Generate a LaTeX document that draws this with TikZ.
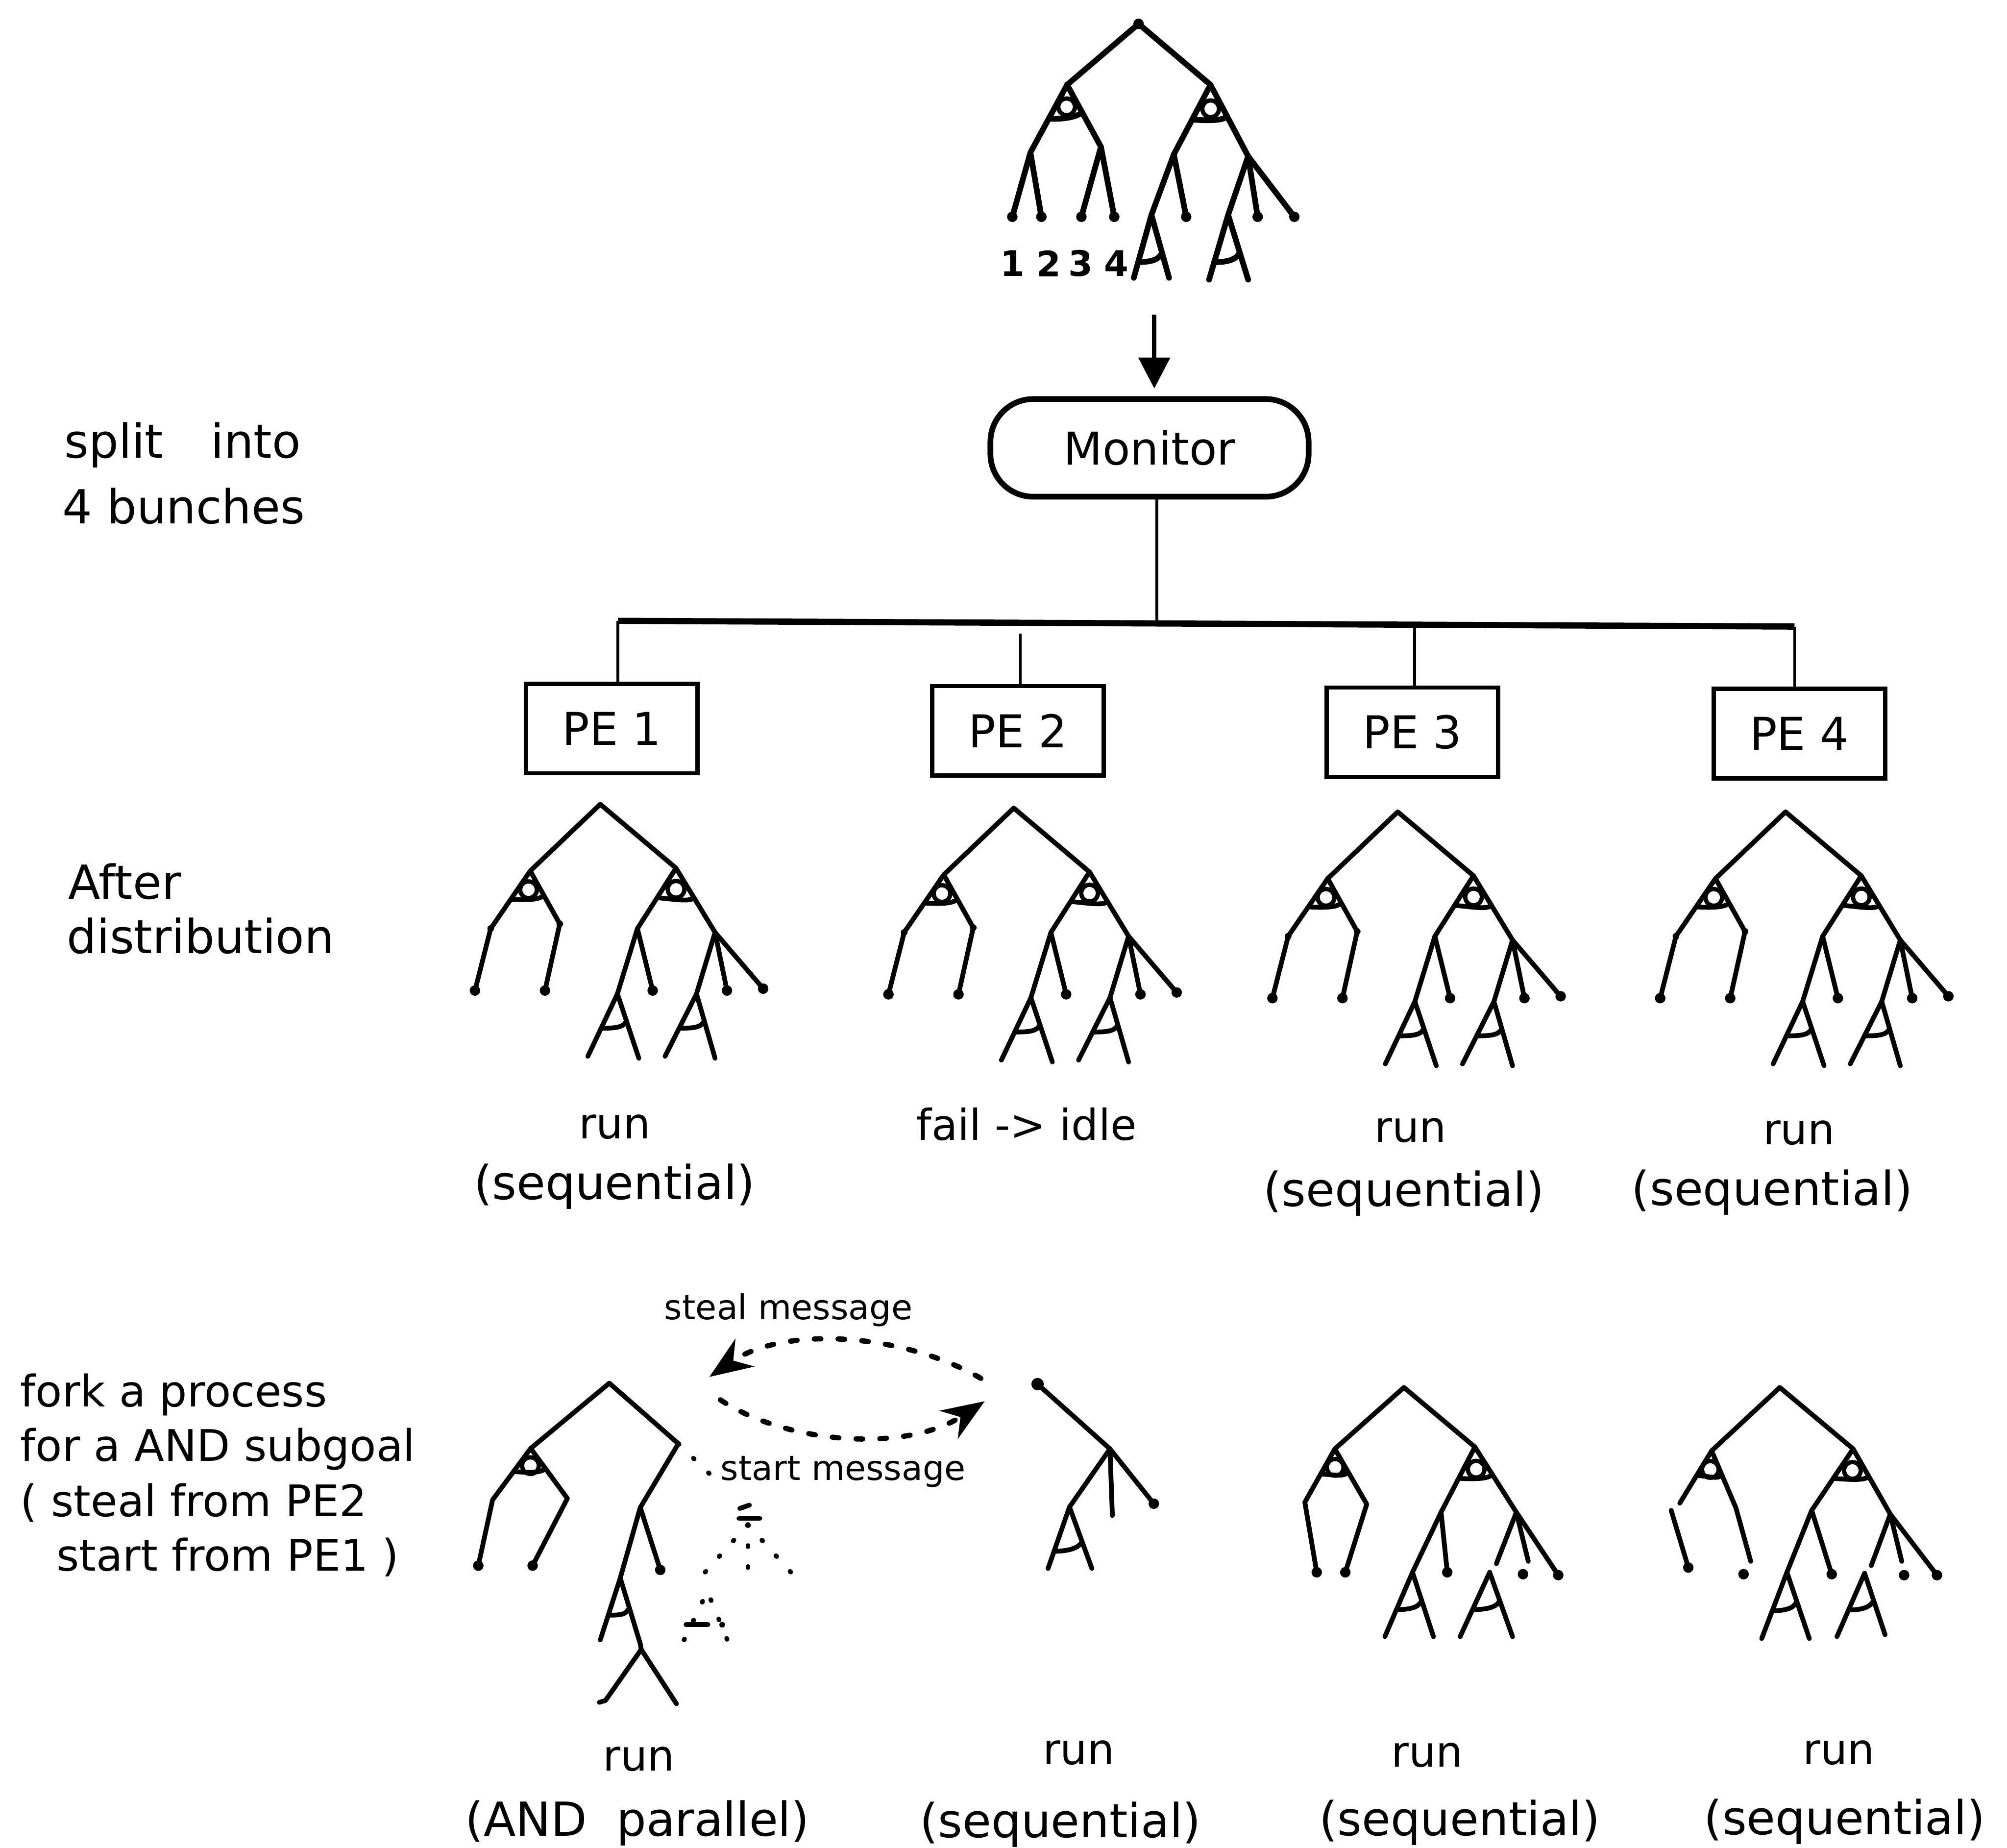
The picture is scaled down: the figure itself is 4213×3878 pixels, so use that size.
\documentclass[tikz,border=0pt]{standalone}
\usepackage{fontspec}
\setmainfont{DejaVu Sans}
\usetikzlibrary{calc,arrows.meta}
\tikzset{
 tree/.style={line width=1mm, line cap=round, line join=round},
 ttree/.style={line width=1.2mm, line cap=round, line join=round},
 loopst/.style={line width=0.9mm},
 pebox/.style={draw, line width=0.9mm, minimum width=36mm, minimum height=18.8mm, inner sep=0pt, font=\fontsize{27}{30}\selectfont},
 mon/.style={draw, line width=1.2mm, rounded corners=9mm, minimum width=66.8mm, minimum height=20.5mm, inner sep=0pt, font=\fontsize{27}{30}\selectfont},
 bus/.style={line width=1.3mm},
 drop/.style={line width=0.6mm},
 lab/.style={font=\fontsize{28}{32}\selectfont, inner sep=0pt},
 labs/.style={font=\fontsize{25.5}{30}\selectfont, inner sep=0pt},
 labl/.style={font=\fontsize{26}{30}\selectfont, inner sep=0pt},
 msgt/.style={font=\fontsize{20.5}{24}\selectfont, inner sep=0pt},
 num/.style={font=\bfseries\fontsize{21}{24}\selectfont, inner sep=0pt},
 msg/.style={line width=1.1mm, line cap=round, dash pattern=on 1.4mm off 3.6mm},
 dotty/.style={line width=1mm, line cap=round, dash pattern=on 0.2mm off 4.2mm},
 arr/.style={line width=0.9mm, -{Triangle[length=6.5mm,width=6.5mm]}},
 msgarr/.style={-{Stealth[length=9mm,width=7mm]}},
}
\newcommand\tdot[1]{\fill (#1) circle[radius=1.1mm];}
% style, name, apex, left foot, right foot, frac left, frac right
\newcommand\ashape[7][tree]{%
 \coordinate (#2t) at #3; \coordinate (#2l) at #4; \coordinate (#2r) at #5;
 \draw[#1] (#2l) -- (#2t) -- (#2r);
 \draw[#1] ($(#2t)!#6!(#2l)$) .. controls +(30,0) and +(-6,14) .. ($(#2t)!#7!(#2r)$);}
% style, node, left child, right child, frac left, frac right  (AND arc with loop)
\newcommand\andbar[6][tree]{%
 \draw[#1] ($(#2)!#5!(#3)$) .. controls +(30,2) and +(-8,10) .. ($(#2)!#6!(#4)$);
 \draw[loopst] ($($(#2)!0.34!(#3)$)!0.5!($(#2)!0.34!(#4)$)$) circle[radius=1.75mm];}
\begin{document}
\begin{tikzpicture}[x=0.1mm,y=-0.1mm]
\useasboundingbox (0,0) rectangle (4213,3878);
\fill[white] (0,0) rectangle (4213,3878);

% ---------------- top tree ----------------
\coordinate (t0) at (2390,50);
\coordinate (tL) at (2240,178); \coordinate (tR) at (2541,178);
\coordinate (tLL) at (2163,320); \coordinate (tLR) at (2311,308);
\coordinate (t1) at (2125,455); \coordinate (t2) at (2186,455);
\coordinate (t3) at (2270,455); \coordinate (t4) at (2339,455);
\coordinate (tRL) at (2464,324); \coordinate (tRR) at (2620,328);
\coordinate (t5) at (2490,455); \coordinate (t6) at (2640,455); \coordinate (t7) at (2717,455);
\draw[ttree] (tL) -- (t0) -- (tR);
\draw[ttree] (tLL) -- (tL) -- (tLR);
\draw[ttree] (t1) -- (tLL) -- (t2);
\draw[ttree] (t3) -- (tLR) -- (t4);
\draw[ttree] (tRL) -- (tR) -- (tRR);
\andbar[ttree]{tL}{tLL}{tLR}{0.5}{0.44}
\andbar[ttree]{tR}{tRL}{tRR}{0.5}{0.44}
\ashape[ttree]{tA1}{(2417,451)}{(2380,583)}{(2454,583)}{0.75}{0.6}
\ashape[ttree]{tA2}{(2578,451)}{(2538,587)}{(2620,587)}{0.73}{0.58}
\draw[ttree] (tRL) -- (tA1t); \draw[ttree] (tRL) -- (t5);
\draw[ttree] (tRR) -- (tA2t); \draw[ttree] (tRR) -- (t6); \draw[ttree] (tRR) -- (t7);
\foreach \p in {t0,t1,t2,t3,t4,t5,t6,t7}{\tdot{\p}}
\node[num] (n1) at (2125,553) {1};
\node[num] (n2) at (2202,553) {2};
\node[num] (n3) at (2268,553) {3};
\node[num] (n4) at (2344,553) {4};

% ---------------- monitor ----------------
\coordinate (arrS) at (2423,660);
\node[mon] (mon) at (2413,940) {Monitor};
\draw[arr] (arrS) -- (arrS |- mon.north) [shorten >=1.6mm];
\coordinate (busL) at (1297,1303);
\coordinate (busR) at (3767,1315);
\coordinate (bj) at ($(busL)!0.458!(busR)$);
\coordinate (bj3) at ($(busL)!0.677!(busR)$);
\draw[bus] (busL) -- (busR);
\draw[drop] (bj |- mon.south) -- (bj);

\node[pebox] (pe1) at (1284,1529) {PE 1};
\node[pebox] (pe2) at (2137,1534) {PE 2};
\node[pebox] (pe3) at (2965,1537) {PE 3};
\node[pebox] (pe4) at (3777,1540) {PE 4};
\coordinate (pe2top) at (2142,1330);
\draw[drop] (busL) -- (busL |- pe1.north);
\draw[drop] (pe2top) -- (pe2top |- pe2.north);
\draw[drop] (bj3) -- (bj3 |- pe3.north);
\draw[drop] (busR) -- (busR |- pe4.north);

% ---------------- middle trees ----------------
\foreach \i/\x/\y in {1/1260/1688,2/2128/1696,3/2934/1704,4/3748/1704}{
 \begin{scope}[shift={(\x,\y)}]
  \coordinate (m\i-r) at (0,0);
  \coordinate (m\i-L) at (-147,140); \coordinate (m\i-R) at (159,134);
  \coordinate (m\i-a) at (-230,261); \coordinate (m\i-la) at (-263,391);
  \coordinate (m\i-b) at (-85,251); \coordinate (m\i-lb) at (-116,391);
  \coordinate (m\i-c) at (78,261); \coordinate (m\i-lc) at (110,391);
  \coordinate (m\i-d) at (241,269); \coordinate (m\i-ld1) at (266,391); \coordinate (m\i-ld2) at (342,387);
  \draw[tree] (m\i-L) -- (m\i-r) -- (m\i-R);
  \draw[tree] (m\i-L) -- (m\i-a) -- (m\i-la);
  \draw[tree] (m\i-L) -- (m\i-b) -- (m\i-lb);
  \draw[tree] (m\i-c) -- (m\i-R) -- (m\i-d);
  \andbar{m\i-L}{m\i-a}{m\i-b}{0.49}{0.46}
  \andbar{m\i-R}{m\i-c}{m\i-d}{0.49}{0.46}
  \ashape{m\i-A1}{(36,398)}{(-26,529)}{(81,533)}{0.55}{0.42}
  \ashape{m\i-A2}{(202,398)}{(136,529)}{(241,533)}{0.55}{0.42}
  \draw[tree] (m\i-c) -- (m\i-A1t); \draw[tree] (m\i-c) -- (m\i-lc);
  \draw[tree] (m\i-d) -- (m\i-A2t); \draw[tree] (m\i-d) -- (m\i-ld1); \draw[tree] (m\i-d) -- (m\i-ld2);
  \fill (m\i-a) circle[radius=0.7mm]; \fill (m\i-b) circle[radius=0.7mm];
  \tdot{m\i-la} \tdot{m\i-lb} \tdot{m\i-lc} \tdot{m\i-ld1} \tdot{m\i-ld2}
 \end{scope}
}

% ---------------- bottom tree PE1 ----------------
\coordinate (b1r) at (1279,2903);
\coordinate (b1L) at (1114,3040); \coordinate (b1R) at (1424,3030);
\coordinate (b1a) at (1034,3148); \coordinate (b1la) at (1004,3286);
\coordinate (b1b) at (1191,3145); \coordinate (b1lb) at (1118,3286);
\coordinate (b1n) at (1344,3164); \coordinate (b1c2) at (1386,3295);
\draw[tree] (b1L) -- (b1r) -- (b1R);
\draw[tree] (b1L) -- (b1a) -- (b1la);
\draw[tree] (b1L) -- (b1b) -- (b1lb);
\andbar{b1L}{b1a}{b1b}{0.45}{0.4}
\ashape{b1A}{(1302,3312)}{(1260,3442)}{(1344,3450)}{0.6}{0.45}
\draw[tree] (b1R) -- (b1n) -- (b1At);
\draw[tree] (b1n) -- (b1c2);
\coordinate (b1y) at (1346,3462);
\coordinate (b1y1) at (1271,3569); \coordinate (b1y2) at (1420,3576);
\draw[tree] (b1Ar) -- (b1y) -- (b1y1) -- (1258,3573);
\draw[tree] (b1y) -- (b1y2);
\tdot{b1la} \tdot{b1lb} \tdot{b1c2}
% dotted forked part
\coordinate (smsg) at (1490,3094);
\draw[dotty] (b1R) -- (smsg);
\draw[tree] (1553,3166) -- (1573,3159);
\draw[tree] (1551,3187) -- (1595,3187);
\coordinate (fk) at (1570,3200);
\coordinate (fk1) at (1478,3302); \coordinate (fk2) at (1570,3308); \coordinate (fk3) at (1662,3302);
\draw[dotty] (fk) -- (fk1); \draw[dotty] (fk) -- (fk2); \draw[dotty] (fk) -- (fk3);
\coordinate (fA) at (1485,3340);
\coordinate (fAl) at (1436,3442); \coordinate (fAr) at (1528,3445);
\draw[dotty] (fAl) -- (fA) -- (fAr);
\draw[tree] (1440,3410) -- (1486,3410);
\fill (1516,3410) circle[radius=0.6mm];

% messages
\coordinate (st1) at (2059,2893); \coordinate (st2) at (1489,2890);
\draw[msg,msgarr] (st1) .. controls (1900,2800) and (1650,2780) .. (st2);
\coordinate (sa1) at (1512,2938); \coordinate (sa2) at (2067,2941);
\draw[msg,msgarr] (sa1) .. controls (1650,3030) and (1900,3050) .. (sa2);
\node[msgt, anchor=base west] (steal) at (1394,2769) {steal message};
\node[msgt, anchor=base west] (start) at (1512,3107) {start message};

% ---------------- bottom tree PE2 ----------------
\coordinate (b2a) at (2178,2905); \coordinate (b2n) at (2330,3041);
\coordinate (b2m) at (2335,3181); \coordinate (b2c) at (2422,3156);
\ashape{b2A}{(2245,3163)}{(2200,3292)}{(2292,3292)}{0.72}{0.56}
\draw[tree] (b2a) -- (b2n) -- (b2At);
\draw[tree] (b2n) -- (b2m);
\draw[tree] (b2n) -- (b2c);
\fill (b2a) circle[radius=1.3mm]; \tdot{b2c}

% ---------------- bottom tree PE3 ----------------
\coordinate (b3r) at (2947,2912);
\coordinate (b3L) at (2802,3041); \coordinate (b3R) at (3096,3037);
\coordinate (b3a) at (2739,3153); \coordinate (b3la) at (2764,3300);
\coordinate (b3b) at (2869,3157); \coordinate (b3lb) at (2824,3300);
\coordinate (b3c) at (3025,3174); \coordinate (b3lc) at (3038,3300);
\coordinate (b3d) at (3183,3174); \coordinate (b3e1) at (3141,3282);
\coordinate (b3e2) at (3208,3277); \coordinate (b3e2d) at (3197,3304); \coordinate (b3e3) at (3271,3306);
\draw[tree] (b3L) -- (b3r) -- (b3R);
\draw[tree] (b3L) -- (b3a) -- (b3la);
\draw[tree] (b3L) -- (b3b) -- (b3lb);
\draw[tree] (b3c) -- (b3R) -- (b3d);
\andbar{b3L}{b3a}{b3b}{0.47}{0.42}
\andbar{b3R}{b3c}{b3d}{0.48}{0.42}
\ashape{b3A1}{(2965,3300)}{(2907,3435)}{(3009,3435)}{0.58}{0.44}
\ashape{b3A2}{(3127,3300)}{(3065,3435)}{(3175,3435)}{0.58}{0.44}
\draw[tree] (b3c) -- (b3A1t); \draw[tree] (b3c) -- (b3lc);
\draw[tree] (b3d) -- (b3e1); \draw[tree] (b3d) -- (b3e2); \draw[tree] (b3d) -- (b3e3);
\tdot{b3la} \tdot{b3lb} \tdot{b3lc} \tdot{b3e2d} \tdot{b3e3}

% ---------------- bottom tree PE4 ----------------
\coordinate (b4r) at (3736,2912);
\coordinate (b4L) at (3593,3045); \coordinate (b4R) at (3890,3041);
\coordinate (b4a) at (3526,3155); \coordinate (b4a1) at (3508,3170); \coordinate (b4la) at (3544,3290);
\coordinate (b4b) at (3644,3165); \coordinate (b4b1) at (3675,3277); \coordinate (b4lb) at (3660,3304);
\coordinate (b4c) at (3803,3170); \coordinate (b4lc) at (3845,3304);
\coordinate (b4d) at (3968,3178); \coordinate (b4e1) at (3928,3286);
\coordinate (b4e2) at (3992,3277); \coordinate (b4e2d) at (3997,3306); \coordinate (b4e3) at (4066,3306);
\draw[tree] (b4L) -- (b4r) -- (b4R);
\draw[tree] (b4L) -- (b4a);
\draw[tree] (b4a1) -- (b4la);
\draw[tree] (b4L) -- (b4b) -- (b4b1);
\draw[tree] (b4c) -- (b4R) -- (b4d);
\andbar{b4L}{b4a}{b4b}{0.47}{0.42}
\andbar{b4R}{b4c}{b4d}{0.48}{0.42}
\ashape{b4A1}{(3751,3300)}{(3698,3439)}{(3798,3439)}{0.58}{0.44}
\ashape{b4A2}{(3914,3302)}{(3856,3435)}{(3957,3431)}{0.58}{0.44}
\draw[tree] (b4c) -- (b4A1t); \draw[tree] (b4c) -- (b4lc);
\draw[tree] (b4d) -- (b4e1); \draw[tree] (b4d) -- (b4e2); \draw[tree] (b4d) -- (b4e3);
\tdot{b4la} \tdot{b4lb} \tdot{b4lc} \tdot{b4e2d} \tdot{b4e3}

% ---------------- labels ----------------
\node[lab, anchor=base west] (l1) at (135,961) {split\hspace{10mm}into};
\node[lab, anchor=base west] (l2) at (130,1099) {4 bunches};
\node[lab, anchor=base west] (l3) at (143,1887) {After};
\node[lab, anchor=base west] (l4) at (140,2001) {distribution};
\node[labl, anchor=base west] (l5) at (42,2952) {fork a process};
\node[labl, anchor=base west] (l6) at (42,3067) {for a AND subgoal};
\node[labl, anchor=base west] (l7) at (42,3183) {( steal from PE2};
\node[labl, anchor=base west] (l8) at (118,3297) {start from PE1 )};

\node[labs, anchor=base] (r1) at (1290,2390) {run};
\node[lab, anchor=base] (s1) at (1290,2517) {(sequential)};
\node[labs, anchor=base] (r2) at (2155,2393) {fail -> idle};
\node[labs, anchor=base] (r3) at (2961,2397) {run};
\node[lab, anchor=base] (s3) at (2947,2532) {(sequential)};
\node[labs, anchor=base] (r4) at (3776,2402) {run};
\node[lab, anchor=base] (s4) at (3720,2530) {(sequential)};

\node[labs, anchor=base] (q1) at (1341,3717) {run};
\node[lab, anchor=base] (p1) at (1338,3853) {(AND\ \ parallel)};
\node[labs, anchor=base] (q2) at (2264,3703) {run};
\node[lab, anchor=base] (p2) at (2226,3857) {(sequential)};
\node[labs, anchor=base] (q3) at (2996,3708) {run};
\node[lab, anchor=base] (p3) at (3064,3852) {(sequential)};
\node[labs, anchor=base] (q4) at (3860,3703) {run};
\node[lab, anchor=base] (p4) at (3872,3850) {(sequential)};
\end{tikzpicture}
\end{document}
